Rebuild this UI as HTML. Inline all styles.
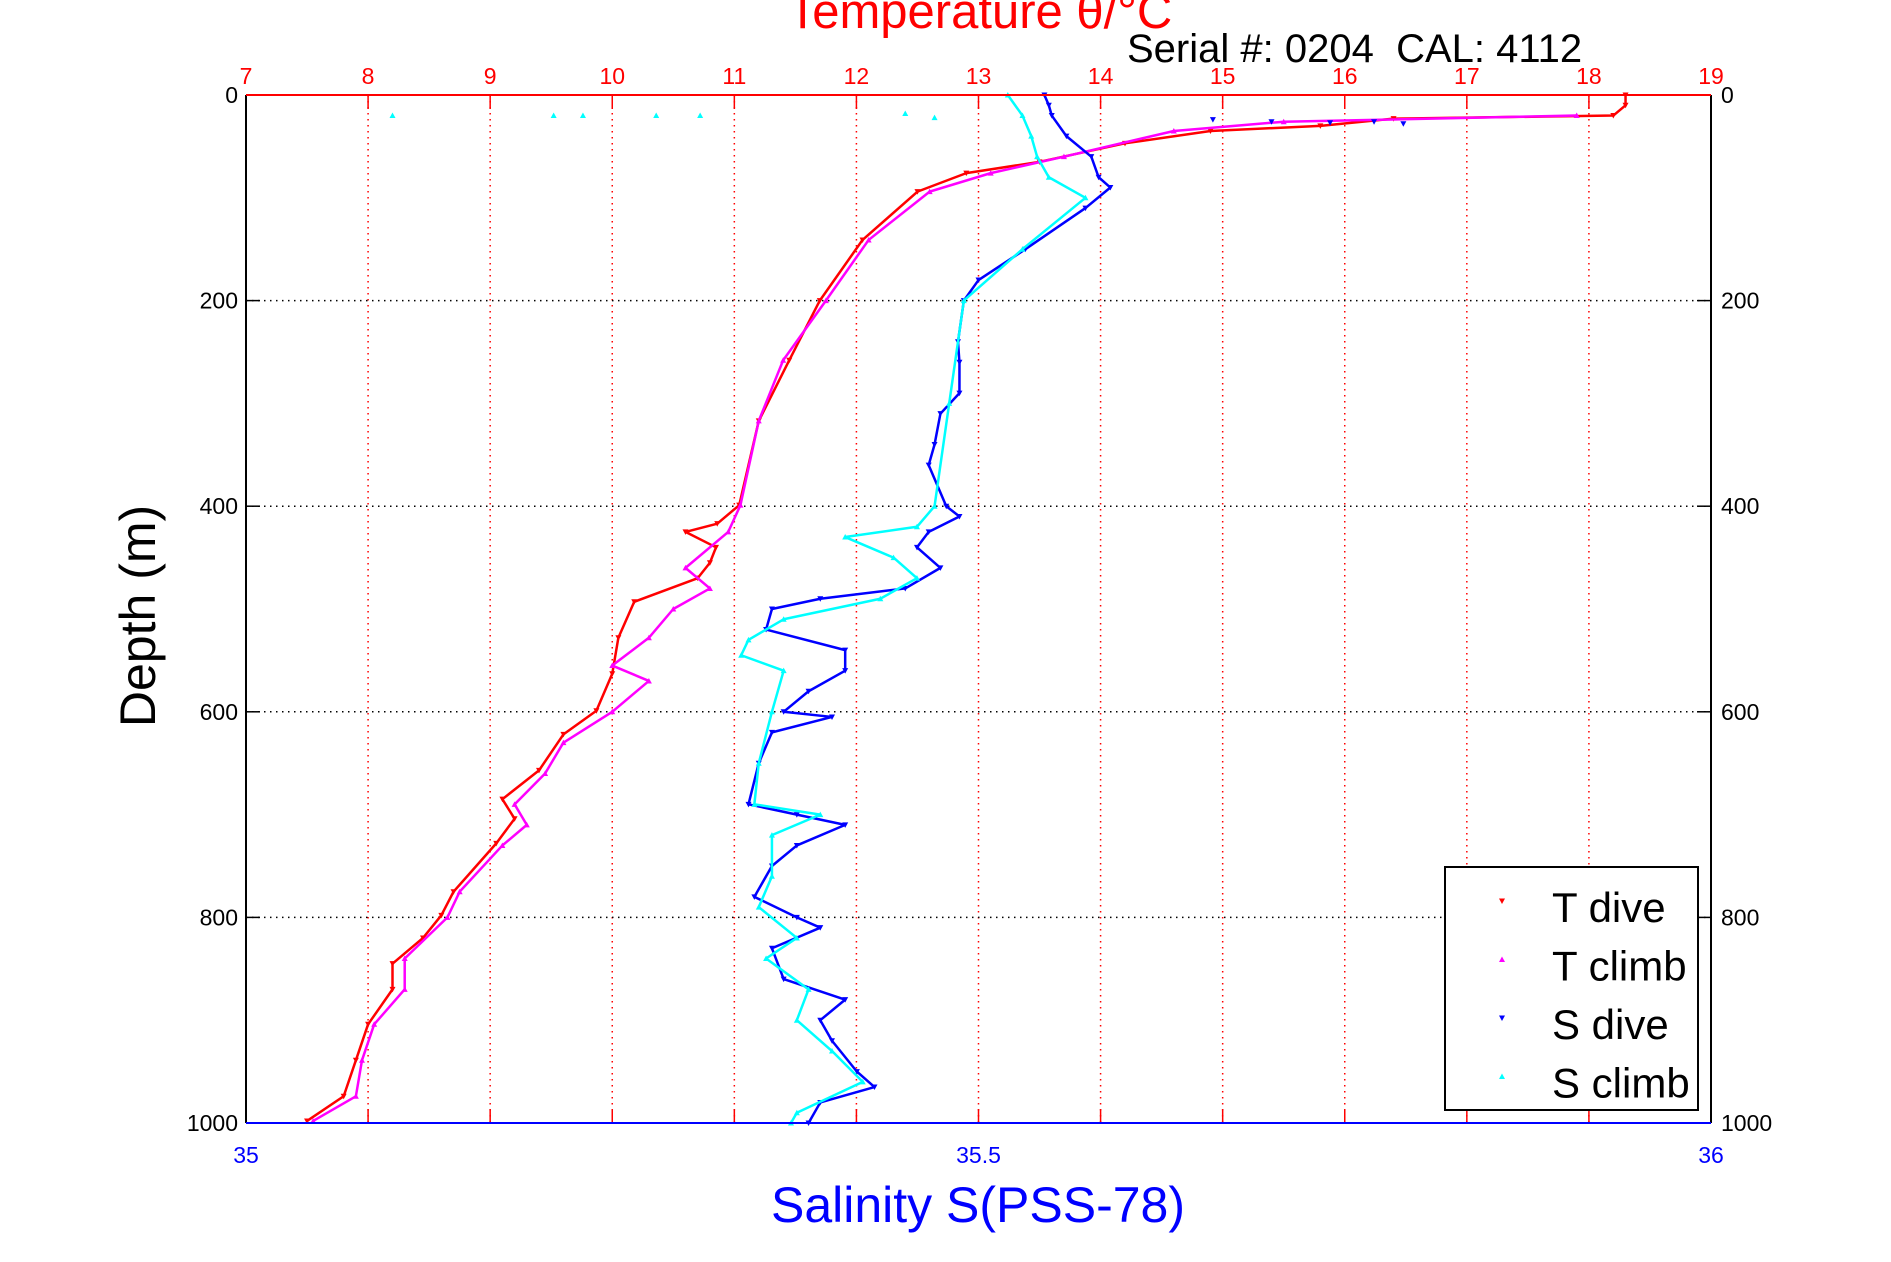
<!DOCTYPE html>
<html><head><meta charset="utf-8"><style>
body{margin:0;background:#fff;}
svg{display:block;font-family:"Liberation Sans",sans-serif;}
</style></head><body>
<svg id="chart" width="1891" height="1262" viewBox="0 0 1891 1262" xmlns="http://www.w3.org/2000/svg">
<rect width="1891" height="1262" fill="#fff"/>
<g id="grid"></g>
<g id="series"></g>
<g id="axes"></g>
<text x="980" y="28" fill="#ff0000" font-size="49" text-anchor="middle">Temperature θ/°C</text>
<text x="1127" y="62" fill="#000" font-size="40">Serial #: 0204&#160;&#160;CAL: 4112</text>
<text x="978" y="1222" fill="#0000ff" font-size="50" text-anchor="middle">Salinity S(PSS-78)</text>
<text transform="translate(155,616) rotate(-90)" fill="#000" font-size="50" text-anchor="middle">Depth (m)</text>
<g id="legend">
<rect x="1445" y="867" width="253" height="243" fill="#fff" stroke="#000" stroke-width="2"/>
</g>
</svg>
<script>
const tempTicks=[7,8,9,10,11,12,13,14,15,16,17,18,19];
const depthTicks=[0,200,400,600,800,1000];
const salTicks=[35,35.5,36];
const tDiveDepth=[0,10,20,23,30,35,47,65,76,94,141,200,258,317,399,417,425,440,455,470,493,528,563,599,622,657,685,704,728,775,798,820,845,870,904,939,974,998];
const tDiveTemp=[18.3,18.3,18.2,16.4,15.8,14.9,14.2,13.5,12.9,12.5,12.05,11.7,11.45,11.2,11.04,10.86,10.6,10.85,10.8,10.7,10.18,10.05,10.0,9.87,9.6,9.4,9.1,9.2,9.05,8.7,8.6,8.45,8.2,8.2,8.0,7.9,7.8,7.5];
const tClimbDepth=[20,26,35,60,76,94,141,200,258,317,399,425,460,480,500,528,555,570,600,630,660,690,710,730,775,800,840,870,904,939,974,998];
const tClimbTemp=[17.9,15.5,14.6,13.7,13.1,12.6,12.1,11.75,11.4,11.2,11.05,10.95,10.6,10.8,10.5,10.3,10.0,10.3,10.0,9.6,9.45,9.2,9.3,9.1,8.75,8.65,8.3,8.3,8.05,7.95,7.9,7.55];
const sDiveDepth=[0,10,20,40,60,80,90,110,150,180,200,240,260,290,310,340,360,400,410,425,440,460,480,490,500,520,540,560,580,600,605,620,650,690,700,710,730,750,780,800,810,830,860,880,900,920,950,965,980,1000];
const sDiveSal=[35.545,35.548,35.55,35.56,35.577,35.582,35.59,35.573,35.532,35.50,35.49,35.486,35.487,35.487,35.474,35.47,35.466,35.478,35.487,35.466,35.458,35.474,35.45,35.392,35.359,35.355,35.409,35.409,35.384,35.367,35.40,35.359,35.35,35.343,35.376,35.409,35.376,35.359,35.347,35.376,35.392,35.359,35.367,35.409,35.392,35.40,35.417,35.429,35.392,35.384];
const sDiveOutDepth=[24,26,27,26,28];
const sDiveOutSal=[35.66,35.70,35.74,35.77,35.79];
const sClimbDepth=[0,20,40,60,80,100,150,200,300,400,420,430,450,470,490,510,530,545,560,600,650,690,700,720,760,790,820,840,870,900,930,960,990,1000];
const sClimbSal=[35.52,35.53,35.536,35.54,35.548,35.573,35.53,35.49,35.48,35.47,35.458,35.409,35.442,35.458,35.433,35.367,35.343,35.338,35.367,35.359,35.35,35.347,35.392,35.359,35.359,35.35,35.376,35.355,35.384,35.376,35.40,35.421,35.376,35.372];
const sOutlierSal=[35.10,35.21,35.23,35.28,35.31,35.45,35.47];
const sOutlierDepth=[20,20,20,20,20,18,22];

const X0=246,X1=1711,Y0=95,Y1=1123;
const xT=t=>X0+(t-7)/12*(X1-X0);
const xS=s=>X0+(s-35)*(X1-X0);
const yD=d=>Y0+d/1000*(Y1-Y0);
const NS='http://www.w3.org/2000/svg';
function mk(tag,parent,attrs){const e=document.createElementNS(NS,tag);for(const k in attrs)e.setAttribute(k,attrs[k]);parent.appendChild(e);return e;}
const grid=document.getElementById('grid'),axes=document.getElementById('axes'),ser=document.getElementById('series');
tempTicks.forEach(t=>{
 const x=xT(t);
 if(t>7&&t<19){const g=mk('line',grid,{x1:x,y1:Y0,x2:x,y2:Y1,stroke:'#ff0000','stroke-width':1.5,'stroke-dasharray':'1.5,4.5'});
 
 
 mk('line',axes,{x1:x,y1:Y0,x2:x,y2:Y0+14,stroke:'#ff0000','stroke-width':1.5});
 mk('line',axes,{x1:x,y1:Y1,x2:x,y2:Y1-14,stroke:'#ff0000','stroke-width':1.5});}
 const lb=mk('text',axes,{x:x,y:84,fill:'#ff0000','font-size':23,'text-anchor':'middle'});lb.textContent=t;
 
 
});
depthTicks.forEach(d=>{
 const y=yD(d);
 if(d>0&&d<1000){const g=mk('line',grid,{x1:X0,y1:y,x2:X1,y2:y,stroke:'#000','stroke-width':1.5,'stroke-dasharray':'1.5,4.5'});
 
 
 mk('line',axes,{x1:X0,y1:y,x2:X0+14,y2:y,stroke:'#000','stroke-width':1.5});
 mk('line',axes,{x1:X1,y1:y,x2:X1-14,y2:y,stroke:'#000','stroke-width':1.5});}
 const l=mk('text',axes,{x:238,y:y+8,fill:'#000','font-size':23,'text-anchor':'end'});l.textContent=d;
 
 
 const r=mk('text',axes,{x:1721,y:y+8,fill:'#000','font-size':23});r.textContent=d;
 
 
});
salTicks.forEach(s=>{
 const x=xS(s);
 const l=mk('text',axes,{x:x,y:1163,fill:'#0000ff','font-size':23,'text-anchor':'middle'});l.textContent=s;
 
 
});
mk('line',axes,{x1:X0,y1:Y0,x2:X0,y2:Y1,stroke:'#000','stroke-width':2});
mk('line',axes,{x1:X1,y1:Y0,x2:X1,y2:Y1,stroke:'#000','stroke-width':2});
mk('line',axes,{x1:X0,y1:Y0,x2:X1,y2:Y0,stroke:'#ff0000','stroke-width':2});
mk('line',axes,{x1:X0,y1:Y1,x2:X1,y2:Y1,stroke:'#0000ff','stroke-width':2});

function tri(parent,x,y,down,color){
 const d=down?`M${x-3},${y-2.5}L${x+3},${y-2.5}L${x},${y+3}Z`:`M${x-3},${y+2.5}L${x+3},${y+2.5}L${x},${y-3}Z`;
 return mk('path',parent,{d:d,fill:color});
}
function series(name,depths,vals,xf,color,down,line){
 const g=mk('g',ser,{});
 
 
 if(line){const pts=depths.map((d,i)=>xf(vals[i])+','+yD(d)).join(' ');
  mk('polyline',g,{points:pts,fill:'none',stroke:color,'stroke-width':2.5,'stroke-linejoin':'round'});}
 depths.forEach((d,i)=>{tri(g,xf(vals[i]),yD(d),down,color);});
}
series('t-dive-series',tDiveDepth,tDiveTemp,xT,'#ff0000',true,true);
series('t-climb-series',tClimbDepth,tClimbTemp,xT,'#ff00ff',false,true);
series('s-dive-series',sDiveDepth,sDiveSal,xS,'#0000ff',true,true);
series('s-dive-outliers',sDiveOutDepth,sDiveOutSal,xS,'#0000ff',true,false);
series('s-climb-series',sClimbDepth,sClimbSal,xS,'#00ffff',false,true);
series('s-climb-outliers',sOutlierDepth,sOutlierSal,xS,'#00ffff',false,false);

const leg=document.getElementById('legend');
const items=[['T dive','#ff0000',true],['T climb','#ff00ff',false],['S dive','#0000ff',true],['S climb','#00ffff',false]];
items.forEach((it,i)=>{
 const y=901+i*58.5;
 const m=tri(leg,1502,y,it[2],it[1]);
 
 
 const t=mk('text',leg,{x:1552,y:y+21,fill:'#000','font-size':42});t.textContent=it[0];
 
 
});
</script>
</body></html>
